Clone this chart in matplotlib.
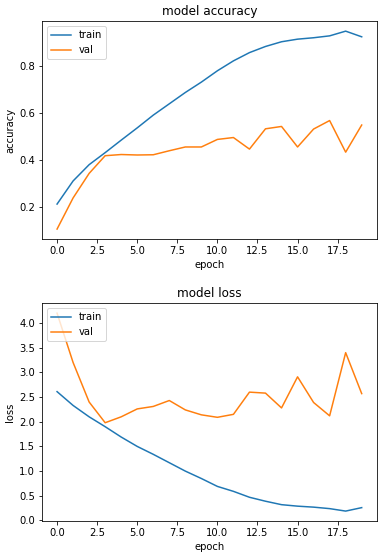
import matplotlib
matplotlib.use("Agg")
import matplotlib.pyplot as plt

# epochs and training history
epochs = list(range(20))
acc_train = [0.214, 0.312, 0.381, 0.432, 0.485, 0.537, 0.591, 0.639, 0.687, 0.731,
             0.779, 0.821, 0.856, 0.882, 0.902, 0.913, 0.919, 0.927, 0.947, 0.923]
acc_val = [0.108, 0.240, 0.344, 0.419, 0.424, 0.422, 0.423, 0.440, 0.456, 0.456,
           0.488, 0.496, 0.447, 0.533, 0.543, 0.456, 0.532, 0.568, 0.434, 0.549]
loss_train = [2.61, 2.33, 2.10, 1.90, 1.69, 1.50, 1.34, 1.17, 1.00, 0.85,
              0.69, 0.59, 0.47, 0.39, 0.32, 0.29, 0.27, 0.24, 0.19, 0.26]
loss_val = [4.20, 3.20, 2.40, 1.98, 2.10, 2.26, 2.31, 2.43, 2.24, 2.14,
            2.09, 2.15, 2.60, 2.58, 2.28, 2.91, 2.39, 2.12, 3.40, 2.57]

fig = plt.figure(figsize=(391 / 72, 559 / 72), dpi=72)

# accuracy
ax1 = fig.add_axes([0.107, 0.5725, 0.857, 0.3895])
ax1.plot(epochs, acc_train, label='train')
ax1.plot(epochs, acc_val, label='val')
ax1.set_title('model accuracy')
ax1.set_ylabel('accuracy')
ax1.set_xlabel('epoch')
ax1.legend(loc='upper left')

# loss
ax2 = fig.add_axes([0.107, 0.068, 0.857, 0.3895])
ax2.plot(epochs, loss_train, label='train')
ax2.plot(epochs, loss_val, label='val')
ax2.set_title('model loss')
ax2.set_ylabel('loss')
ax2.set_xlabel('epoch')
ax2.legend(loc='upper left')

plt.savefig("out.png", dpi=72)
